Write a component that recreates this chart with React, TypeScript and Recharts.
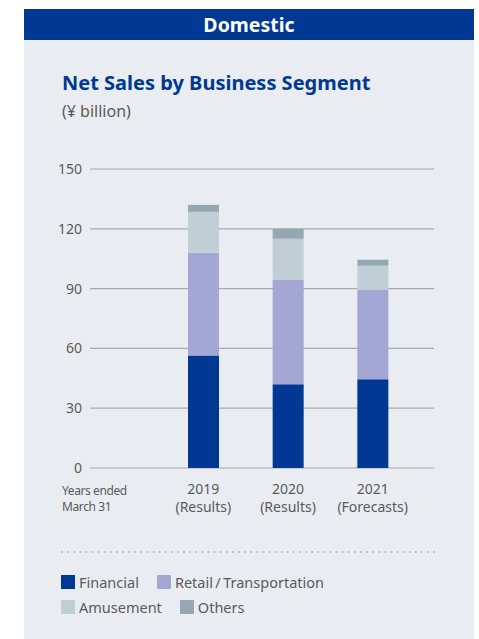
import { Bar, BarChart, CartesianGrid, XAxis, YAxis } from "recharts";

const years = ["2019", "2020", "2021"];
const yearNotes = ["(Results)", "(Results)", "(Forecasts)"];
const financial = [56.5, 42, 44.5];
const retail = [51.5, 52.5, 45];
const amusement = [20.5, 20.5, 12];
const others = [3.5, 5, 3];
const yTicks = [0, 30, 60, 90, 120, 150];

const series = [
  { key: "financial", name: "Financial", color: "#003893" },
  { key: "retail", name: "Retail / Transportation", color: "#a4a6d3" },
  { key: "amusement", name: "Amusement", color: "#c0ced6" },
  { key: "others", name: "Others", color: "#95a8b1" },
];

const data = years.map((y, i) => ({
  year: y,
  note: yearNotes[i],
  financial: financial[i],
  retail: retail[i],
  amusement: amusement[i],
  others: others[i],
}));

const FONT = "'Noto Sans', 'Open Sans', sans-serif";
const TEXT = "#5a5a5a";

function YearTick({ x, y, payload, index }: any) {
  return (
    <text x={x} y={y} textAnchor="middle" fill={TEXT} fontSize={14} fontFamily={FONT}>
      <tspan x={x} dy={18}>{payload.value}</tspan>
      <tspan x={x} dy={18}>{yearNotes[index]}</tspan>
    </text>
  );
}

function LegendItem({ color, name }: { color: string; name: string }) {
  return (
    <span style={{ display: "inline-flex", alignItems: "center", marginRight: 18 }}>
      <span style={{ width: 14, height: 14, background: color, display: "inline-block", marginRight: 4 }} />
      <span>{name}</span>
    </span>
  );
}

export default function App() {
  return (
    <div style={{ position: "absolute", left: 0, top: 0, width: 479, height: 639, background: "#fff", fontFamily: FONT }}>
      <div style={{ position: "absolute", left: 24, top: 9, width: 450, height: 630, background: "#e9edf1" }}>
        <div
          style={{
            height: 31,
            background: "#003893",
            color: "#fff",
            fontWeight: 700,
            fontSize: 19.5,
            lineHeight: "31px",
            textAlign: "center",
          }}
        >
          Domestic
        </div>
        <div style={{ position: "absolute", left: 38, top: 60, color: "#003893", fontWeight: 700, fontSize: 20 }}>
          Net Sales by Business Segment
        </div>
        <div style={{ position: "absolute", left: 38, top: 91, color: TEXT, fontSize: 16 }}>(¥ billion)</div>
      </div>

      <div style={{ position: "absolute", left: 0, top: 150 }}>
        <BarChart width={479} height={370} data={data} margin={{ top: 19, right: 45, bottom: 2, left: 50 }} barSize={31}>
          <CartesianGrid vertical={false} stroke="#a9acae" strokeWidth={1.2} />
          <YAxis
            domain={[0, 150]}
            ticks={yTicks}
            width={40}
            axisLine={false}
            tickLine={false}
            tick={{ fill: TEXT, fontSize: 14, fontFamily: FONT }}
          />
          <XAxis
            dataKey="year"
            height={50}
            axisLine={false}
            tickLine={false}
            padding={{ left: 71, right: 19 }}
            tick={<YearTick />}
          />
          {series.map((s) => (
            <Bar key={s.key} dataKey={s.key} name={s.name} stackId="a" fill={s.color} isAnimationActive={false} />
          ))}
        </BarChart>
      </div>

      <div style={{ position: "absolute", left: 62, top: 483, color: TEXT, fontSize: 12, lineHeight: "16px", letterSpacing: -0.4 }}>
        Years ended
        <br />
        March 31
      </div>

      <svg style={{ position: "absolute", left: 60, top: 549 }} width={380} height={6}>
        <line x1={2} y1={3} x2={376} y2={3} stroke="#b0b9c0" strokeWidth={1.8} strokeDasharray="0.1 6" strokeLinecap="round" />
      </svg>

      <div style={{ position: "absolute", left: 61, top: 570, color: TEXT, fontSize: 14.5, lineHeight: "24px" }}>
        <div>
          <LegendItem color={series[0].color} name={series[0].name} />
          <LegendItem color={series[1].color} name={"Retail\u2009/\u2009Transportation"} />
        </div>
        <div>
          <LegendItem color={series[2].color} name={series[2].name} />
          <LegendItem color={series[3].color} name={series[3].name} />
        </div>
      </div>
    </div>
  );
}
